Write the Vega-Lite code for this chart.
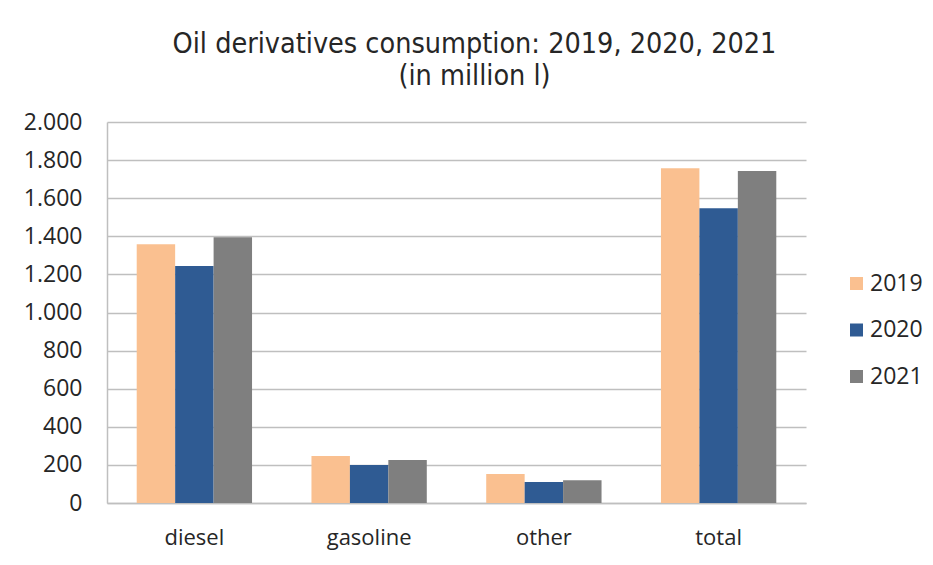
{
  "$schema": "https://vega.github.io/schema/vega-lite/v6.json",
  "width": 699,
  "height": 381,
  "autosize": "none",
  "padding": {"left": 107, "top": 122, "right": 127, "bottom": 62},
  "background": "white",
  "title": {
    "text": ["Oil derivatives consumption: 2019, 2020, 2021", "(in million l)"],
    "font": "DejaVu Sans Condensed",
    "fontSize": 28.5,
    "fontWeight": "normal",
    "color": "#262626",
    "anchor": "middle",
    "frame": "group",
    "dx": 18,
    "offset": 21,
    "lineHeight": 32
  },
  "data": {
    "values": [
      {"category": "diesel", "year": "2019", "value": 1358},
      {"category": "diesel", "year": "2020", "value": 1244},
      {"category": "diesel", "year": "2021", "value": 1395},
      {"category": "gasoline", "year": "2019", "value": 247},
      {"category": "gasoline", "year": "2020", "value": 200},
      {"category": "gasoline", "year": "2021", "value": 226},
      {"category": "other", "year": "2019", "value": 152},
      {"category": "other", "year": "2020", "value": 110},
      {"category": "other", "year": "2021", "value": 119},
      {"category": "total", "year": "2019", "value": 1757},
      {"category": "total", "year": "2020", "value": 1547},
      {"category": "total", "year": "2021", "value": 1743}
    ]
  },
  "mark": {"type": "bar"},
  "encoding": {
    "x": {
      "field": "category",
      "type": "nominal",
      "sort": ["diesel", "gasoline", "other", "total"],
      "scale": {"paddingInner": 0.34, "paddingOuter": 0.17},
      "axis": {
        "title": null,
        "labelAngle": 0,
        "labelFont": "Open Sans",
        "labelFontSize": 22,
        "labelColor": "#262626",
        "labelPadding": 24,
        "ticks": false,
        "domain": true,
        "domainColor": "#BFBFBF",
        "domainWidth": 1.5
      }
    },
    "xOffset": {"field": "year", "type": "nominal", "scale": {"paddingInner": 0, "paddingOuter": 0}},
    "y": {
      "field": "value",
      "type": "quantitative",
      "scale": {"domain": [0, 2000], "nice": false},
      "axis": {
        "title": null,
        "values": [0, 200, 400, 600, 800, 1000, 1200, 1400, 1600, 1800, 2000],
        "labelExpr": "replace(format(datum.value, ','), ',', '.')",
        "labelFont": "Open Sans",
        "labelFontSize": 23,
        "labelColor": "#262626",
        "labelPadding": 25,
        "ticks": false,
        "grid": true,
        "gridColor": "#BFBFBF",
        "gridWidth": 1.5,
        "domain": true,
        "domainColor": "#BFBFBF",
        "domainWidth": 1.5
      }
    },
    "color": {
      "field": "year",
      "type": "nominal",
      "scale": {"domain": ["2019", "2020", "2021"], "range": ["#FAC090", "#2F5B93", "#7F7F7F"]},
      "legend": {
        "title": null,
        "orient": "none",
        "legendX": 738,
        "legendY": 150,
        "symbolType": "square",
        "symbolSize": 169,
        "symbolStrokeWidth": 0,
        "labelFont": "Open Sans",
        "labelFontSize": 23,
        "labelColor": "#262626",
        "labelOffset": 2,
        "rowPadding": 22.5,
        "padding": 0
      }
    }
  },
  "config": {"view": {"stroke": null}}
}
